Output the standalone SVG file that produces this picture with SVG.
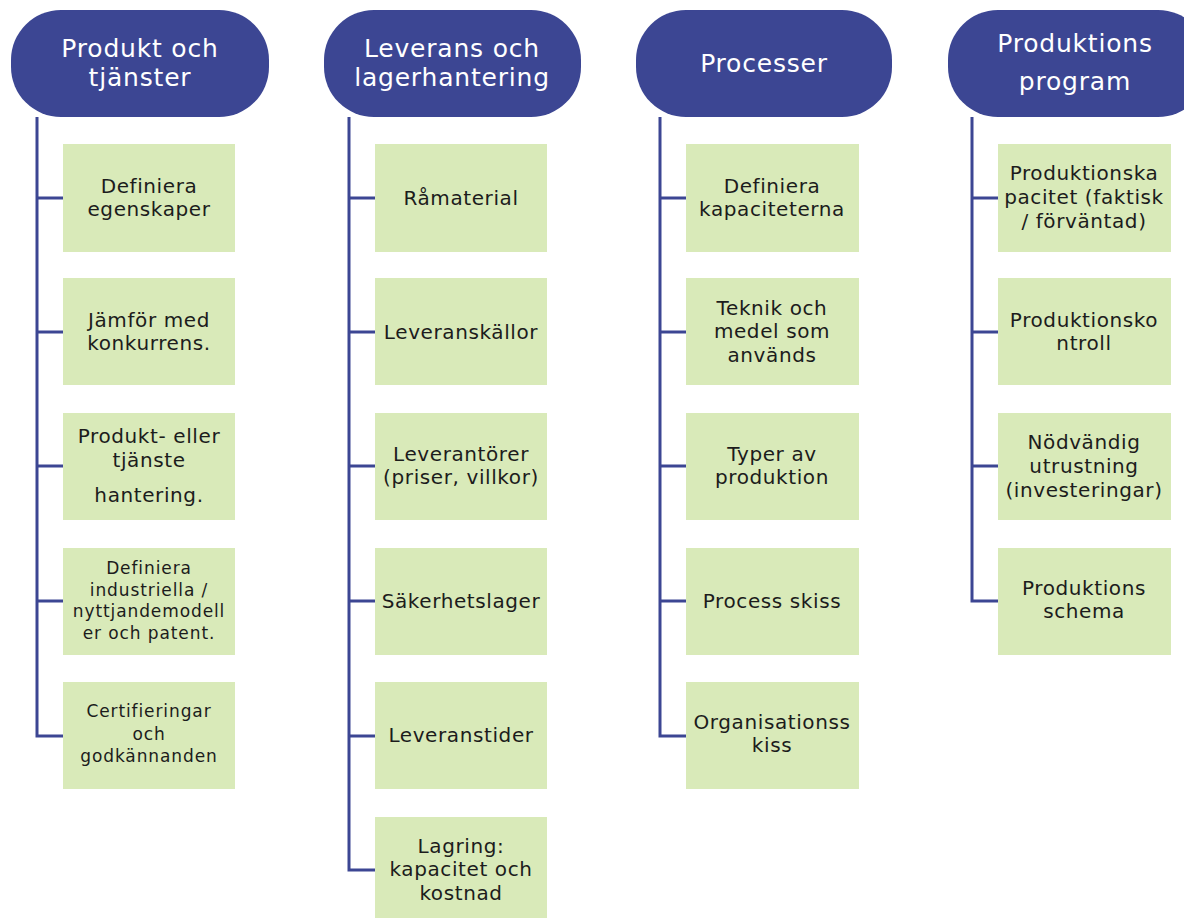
<svg xmlns="http://www.w3.org/2000/svg" width="1184" height="918" viewBox="0 0 1184 918">
<style>
.hd{fill:#3c4693}
.bx{fill:#d9eab9}
.ht{font-family:"DejaVu Sans","Noto Sans",sans-serif;font-size:25px;letter-spacing:0.8px;fill:#ffffff;text-anchor:middle}
.bt{font-family:"DejaVu Sans","Noto Sans",sans-serif;font-size:20px;letter-spacing:0.6px;fill:#1c1c1c;text-anchor:middle}
.sm{font-size:17px;letter-spacing:0.9px}
.cn{fill:none;stroke:#3c4693;stroke-width:3}
</style>
<rect width="1184" height="918" fill="#ffffff"/>
<g id="connectors">
<path class="cn" d="M37 117V736H63M37 198H63M37 332H63M37 466H63M37 601H63"/>
<path class="cn" d="M349 117V870H375M349 198H375M349 332H375M349 466H375M349 601H375M349 736H375"/>
<path class="cn" d="M660 117V736H686M660 198H686M660 332H686M660 466H686M660 601H686"/>
<path class="cn" d="M972 117V601H998M972 198H998M972 332H998M972 466H998"/>
</g>
<g id="h1"><rect class="hd" x="11" y="10" width="258" height="107" rx="50"/><text class="ht" x="140" y="57">Produkt och</text><text class="ht" x="140" y="86">tjänster</text></g>
<g id="h2"><rect class="hd" x="324" y="10" width="257" height="107" rx="50"/><text class="ht" x="452" y="57">Leverans och</text><text class="ht" x="452" y="86">lagerhantering</text></g>
<g id="h3"><rect class="hd" x="636" y="10" width="256" height="107" rx="50"/><text class="ht" x="764" y="72">Processer</text></g>
<g id="h4"><rect class="hd" x="948" y="10" width="260" height="107" rx="50"/><text class="ht" x="1075" y="52">Produktions</text><text class="ht" x="1075" y="90">program</text></g>

<g id="c1b1"><rect class="bx" x="63" y="144" width="172" height="108"/><text class="bt" x="149" y="193">Definiera</text><text class="bt" x="149" y="216">egenskaper</text></g>
<g id="c1b2"><rect class="bx" x="63" y="278" width="172" height="107"/><text class="bt" x="149" y="327">Jämför med</text><text class="bt" x="149" y="350">konkurrens.</text></g>
<g id="c1b3"><rect class="bx" x="63" y="413" width="172" height="107"/><text class="bt" x="149" y="443">Produkt- eller</text><text class="bt" x="149" y="467">tjänste</text><text class="bt" x="149" y="502">hantering.</text></g>
<g id="c1b4"><rect class="bx" x="63" y="548" width="172" height="107"/><text class="bt sm" x="149" y="574">Definiera</text><text class="bt sm" x="149" y="596">industriella /</text><text class="bt sm" x="149" y="617">nyttjandemodell</text><text class="bt sm" x="149" y="639">er och patent.</text></g>
<g id="c1b5"><rect class="bx" x="63" y="682" width="172" height="107"/><text class="bt sm" x="149" y="717">Certifieringar</text><text class="bt sm" x="149" y="740">och</text><text class="bt sm" x="149" y="762">godkännanden</text></g>

<g id="c2b1"><rect class="bx" x="375" y="144" width="172" height="108"/><text class="bt" x="461" y="205">Råmaterial</text></g>
<g id="c2b2"><rect class="bx" x="375" y="278" width="172" height="107"/><text class="bt" x="461" y="339">Leveranskällor</text></g>
<g id="c2b3"><rect class="bx" x="375" y="413" width="172" height="107"/><text class="bt" x="461" y="461">Leverantörer</text><text class="bt" x="461" y="484">(priser, villkor)</text></g>
<g id="c2b4"><rect class="bx" x="375" y="548" width="172" height="107"/><text class="bt" x="461" y="608">Säkerhetslager</text></g>
<g id="c2b5"><rect class="bx" x="375" y="682" width="172" height="107"/><text class="bt" x="461" y="742">Leveranstider</text></g>
<g id="c2b6"><rect class="bx" x="375" y="817" width="172" height="108"/><text class="bt" x="461" y="853">Lagring:</text><text class="bt" x="461" y="876">kapacitet och</text><text class="bt" x="461" y="900">kostnad</text></g>

<g id="c3b1"><rect class="bx" x="686" y="144" width="173" height="108"/><text class="bt" x="772" y="193">Definiera</text><text class="bt" x="772" y="216">kapaciteterna</text></g>
<g id="c3b2"><rect class="bx" x="686" y="278" width="173" height="107"/><text class="bt" x="772" y="315">Teknik och</text><text class="bt" x="772" y="338">medel som</text><text class="bt" x="772" y="362">används</text></g>
<g id="c3b3"><rect class="bx" x="686" y="413" width="173" height="107"/><text class="bt" x="772" y="461">Typer av</text><text class="bt" x="772" y="484">produktion</text></g>
<g id="c3b4"><rect class="bx" x="686" y="548" width="173" height="107"/><text class="bt" x="772" y="608">Process skiss</text></g>
<g id="c3b5"><rect class="bx" x="686" y="682" width="173" height="107"/><text class="bt" x="772" y="729">Organisationss</text><text class="bt" x="772" y="752">kiss</text></g>

<g id="c4b1"><rect class="bx" x="998" y="144" width="173" height="108"/><text class="bt" x="1084" y="180">Produktionska</text><text class="bt" x="1084" y="204">pacitet (faktisk</text><text class="bt" x="1084" y="228">/ förväntad)</text></g>
<g id="c4b2"><rect class="bx" x="998" y="278" width="173" height="107"/><text class="bt" x="1084" y="327">Produktionsko</text><text class="bt" x="1084" y="350">ntroll</text></g>
<g id="c4b3"><rect class="bx" x="998" y="413" width="173" height="107"/><text class="bt" x="1084" y="449">Nödvändig</text><text class="bt" x="1084" y="473">utrustning</text><text class="bt" x="1084" y="497">(investeringar)</text></g>
<g id="c4b4"><rect class="bx" x="998" y="548" width="173" height="107"/><text class="bt" x="1084" y="595">Produktions</text><text class="bt" x="1084" y="618">schema</text></g>
</svg>
